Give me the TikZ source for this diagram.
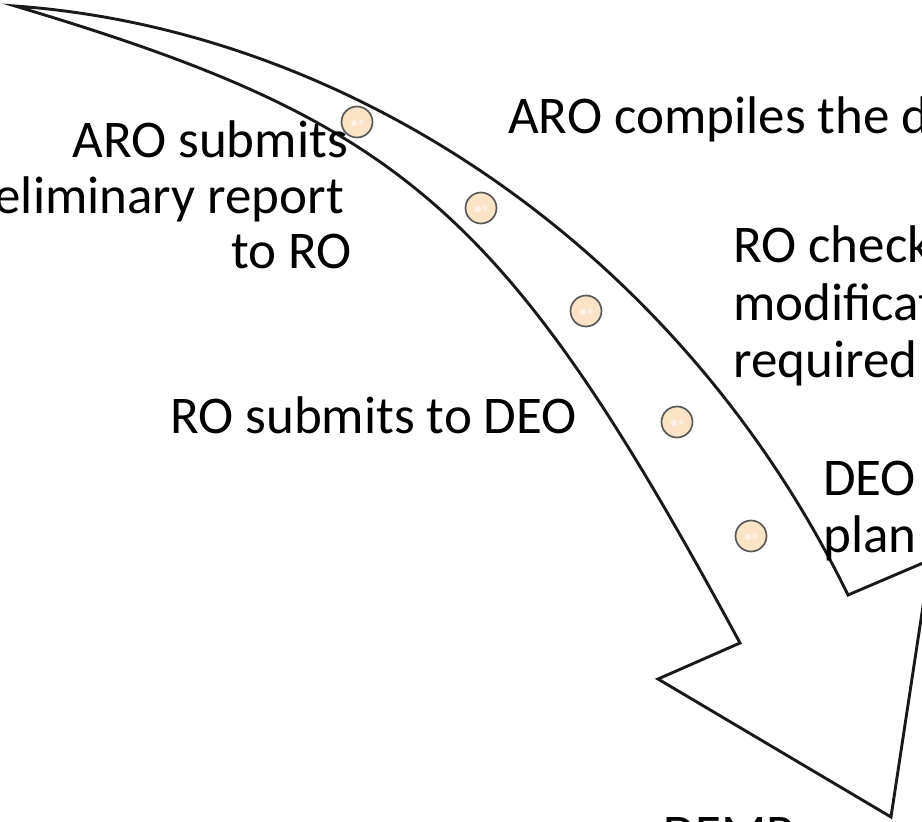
\documentclass[tikz,border=0pt]{standalone}
\usepackage{fontspec}
\setmainfont{Carlito}
\usetikzlibrary{calc}
\begin{document}
\begin{tikzpicture}[x=1pt,y=-1pt,
  arrowline/.style={draw=black!90,line width=2.9pt,fill=white,line join=miter},
  bead/.style={circle,draw=black!65,line width=1.7pt,fill=beadfill,minimum size=31pt,inner sep=0pt},
  lbl/.style={inner sep=0pt,font=\fontsize{53}{57}\selectfont}]
\definecolor{beadfill}{HTML}{FBE3C6}
\useasboundingbox (0,0) rectangle (922,822);
\clip (0,0) rectangle (922,822);
% curved arrow
\coordinate (tail) at (15,6);
\coordinate (notchR) at (848,595);
\coordinate (cornerR) at (930,560);
\coordinate (tip) at (891,817);
\coordinate (cornerL) at (658,679);
\coordinate (notchL) at (740,643);
\path[arrowline]
  (tail) .. controls (350,30) and (680,250) .. (notchR)
  -- (cornerR) -- (tip) -- (cornerL) -- (notchL)
  .. controls (505,208) and (403,122) .. (tail) -- cycle;
% beads
\foreach \n/\p in {b1/{(357,122)},b2/{(481,208)},b3/{(586,311)},b4/{(677,422)},b5/{(751,536)}}{
  \node[bead] (\n) at \p {};
  \fill[white,opacity=0.6] ($(\n.center)+(-3,1)$) circle (3pt);
  \fill[white,opacity=0.45] ($(\n.center)+(4,0)$) circle (2.5pt);
}
% labels
\node[lbl,anchor=base east] (t1a) at (348,157) {ARO submits};
\node[lbl,anchor=base east] (t1b) at (344,213) {eliminary report};
\node[lbl,anchor=base east] (t1c) at (352,268) {to RO};
\node[lbl,anchor=base west] (t2) at (508,133) {ARO compiles the d};
\node[lbl,anchor=base west] (t3a) at (733,262) {RO check};
\node[lbl,anchor=base west] (t3b) at (733,320) {modificat};
\node[lbl,anchor=base west] (t3c) at (733,377) {required};
\node[lbl,anchor=base west] (t4) at (170,433) {RO submits to DEO};
\node[lbl,anchor=base west] (t5a) at (823,495) {DEO};
\node[lbl,anchor=base west] (t5b) at (823,552) {plan};
\node[lbl,anchor=base west] (t6) at (663,851) {DEMP};
\end{tikzpicture}
\end{document}
